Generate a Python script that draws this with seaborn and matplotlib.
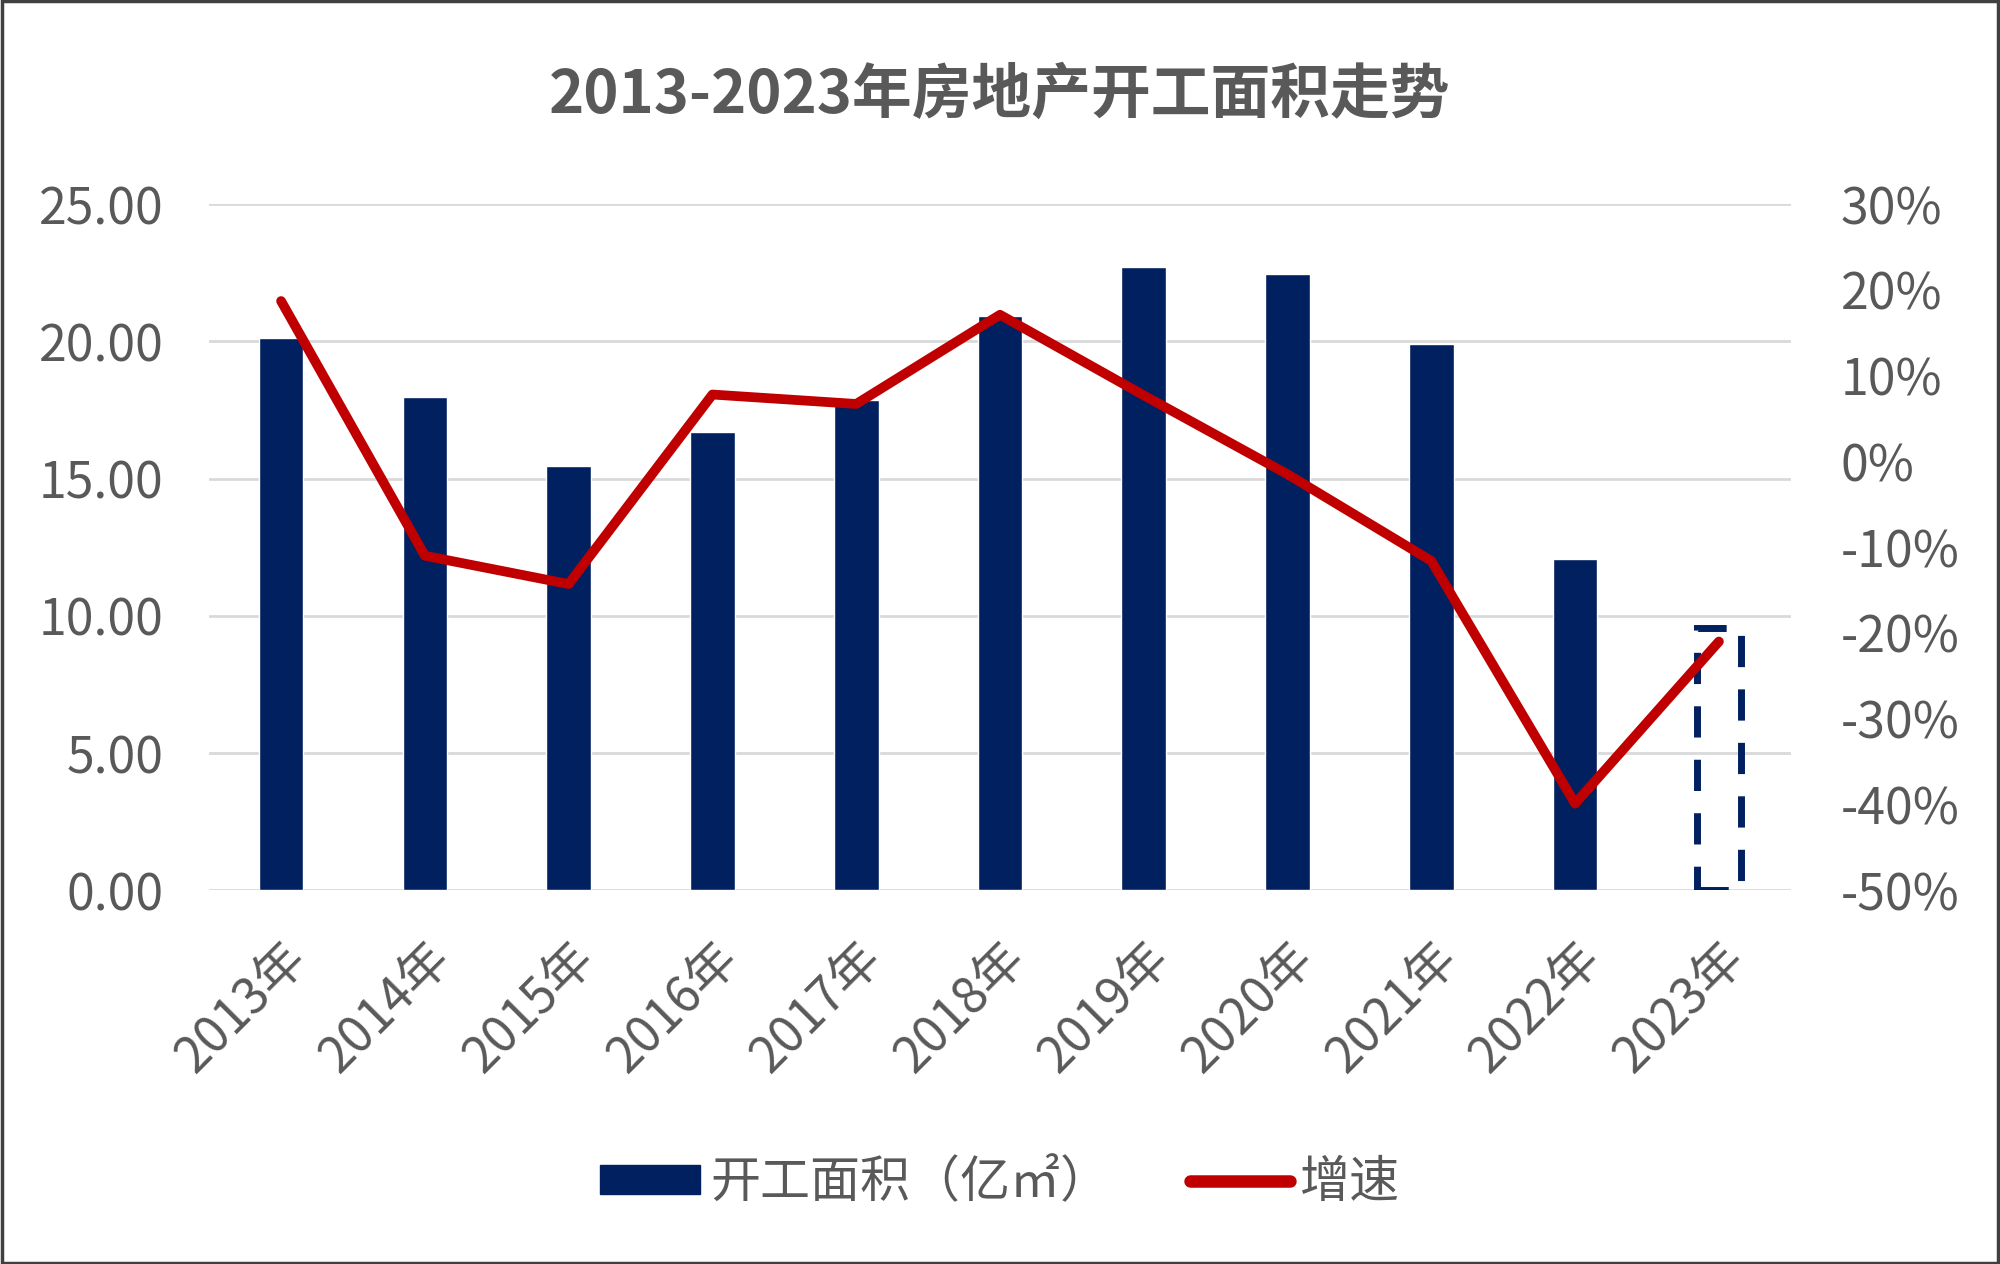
import numpy as np
import pandas as pd
import matplotlib
matplotlib.use("Agg")
import matplotlib.pyplot as plt
from matplotlib.patches import Patch, Rectangle
from matplotlib.lines import Line2D
from matplotlib.ticker import FuncFormatter
import seaborn as sns

years = ["2013年", "2014年", "2015年", "2016年", "2017年", "2018年",
         "2019年", "2020年", "2021年", "2022年", "2023年"]
area = [20.12, 17.96, 15.45, 16.69, 17.87, 20.93, 22.72, 22.44, 19.89, 12.06, 9.54]
growth = [18.7, -11.0, -14.3, 7.8, 6.7, 17.1, 7.7, -1.5, -11.6, -39.9, -21.0]

NAVY = "#002060"
RED = "#C00000"
GRAY = "#595959"

sns.set_theme(style="white")
plt.rcParams["font.family"] = ["Noto Sans CJK SC", "DejaVu Sans"]

df = pd.DataFrame({"year": years, "area": area, "growth": growth})
df["pos"] = np.arange(len(df))

fig = plt.figure(figsize=(20, 12.64), dpi=100)
ax = fig.add_axes([0.1046, 0.2957, 0.7908, 0.5428])

sns.barplot(data=df, x="year", y="area", color=NAVY, width=0.31,
            saturation=1, ax=ax)
# 2023 is an estimate: dashed outline bar
last = ax.patches[len(df) - 1]
last.set_facecolor("none")
last.set_edgecolor(NAVY)
last.set_linewidth(5)
last.set_linestyle((0, (4.5, 3.2)))

ax.set_ylim(0, 25)
ax.set_yticks(np.arange(0, 26, 5))
ax.yaxis.set_major_formatter(FuncFormatter(lambda v, p: f"{v:.2f}"))
ax.grid(axis="y", color="#D9D9D9", linewidth=2)
ax.set_axisbelow(True)
ax.set_xlabel("")
ax.set_ylabel("")
ax.set_xlim(-0.5, len(df) - 0.5)
for s in ax.spines.values():
    s.set_visible(False)
ax.tick_params(axis="y", length=0, pad=33, labelsize=36, labelcolor=GRAY)
ax.tick_params(axis="x", length=0, pad=30, labelsize=36, labelcolor=GRAY)
for lab in ax.get_xticklabels():
    lab.set_rotation(45)
    lab.set_ha("right")
    lab.set_rotation_mode("anchor")

ax2 = ax.twinx()
sns.lineplot(data=df, x="pos", y="growth", color=RED, linewidth=7,
             ax=ax2, legend=False)
ax2.set_ylim(-50, 30)
ax2.set_yticks(np.arange(-50, 31, 10))
ax2.yaxis.set_major_formatter(FuncFormatter(lambda v, p: f"{v:.0f}%"))
ax2.set_ylabel("")
ax2.set_xlim(-0.5, len(df) - 0.5)
ax2.grid(False)
for s in ax2.spines.values():
    s.set_visible(False)
ax2.tick_params(axis="y", length=0, pad=36, labelsize=36, labelcolor=GRAY)

fig.suptitle("2013-2023年房地产开工面积走势", y=0.948, fontsize=43,
             fontweight="bold", color=GRAY)

handles = [Patch(facecolor=NAVY, edgecolor=NAVY),
           Line2D([0], [0], color=RED, linewidth=9, solid_capstyle="round")]
fig.legend(handles, ["开工面积（亿㎡）", "增速"], loc="center",
           bbox_to_anchor=(0.5, 0.064), ncol=2, frameon=False, fontsize=36,
           labelcolor=GRAY, handlelength=2.0, handleheight=0.5,
           handletextpad=0.2, columnspacing=1.6)

fig.patches.append(Rectangle((0.001, 0.001), 0.998, 0.998,
                             transform=fig.transFigure, fill=False,
                             edgecolor="#404040", linewidth=2.5))

fig.savefig("out.png", dpi=100, facecolor="white")
